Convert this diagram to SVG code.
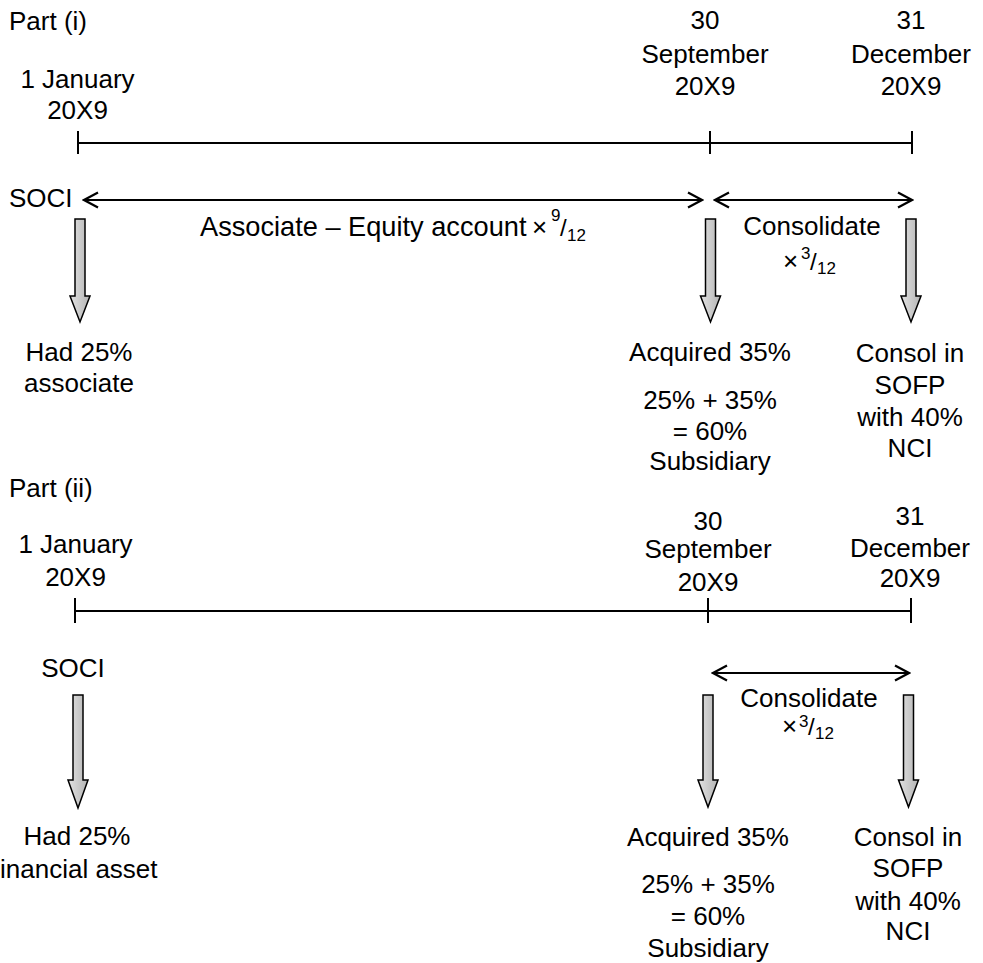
<svg xmlns="http://www.w3.org/2000/svg" width="983" height="963" viewBox="0 0 983 963">
<style>
text{font-family:"Liberation Sans",Arial,sans-serif;font-size:26px;fill:#000}
.m{text-anchor:middle}
.sm{font-size:17px}
.x{font-size:26px}
.sl{font-size:24px}
.big{font-size:27.2px}
.tl{stroke:#000;stroke-width:2;fill:none}
.da{stroke:#000;stroke-width:2;fill:none;marker-start:url(#chev);marker-end:url(#chev)}
.blk{fill:url(#g);stroke:#000;stroke-width:1.5;stroke-linejoin:miter}
</style>
<defs>
<linearGradient id="g" x1="0" y1="0" x2="1" y2="0">
<stop offset="0" stop-color="#e2e2e2"/>
<stop offset="1" stop-color="#b4b4b4"/>
</linearGradient>
<marker id="chev" markerUnits="userSpaceOnUse" markerWidth="18" markerHeight="20" viewBox="-2 -2 18 20" refX="14" refY="7.5" orient="auto-start-reverse">
<path d="M0,0 L14,7.5 L0,15" fill="none" stroke="#000" stroke-width="2.2"/>
</marker>
</defs>

<!-- Part (i) -->
<g id="part1-title"><text x="9" y="30">Part (i)</text></g>
<g id="p1-jan"><text class="m" x="77.5" y="88">1 January</text><text class="m" x="77.5" y="119">20X9</text></g>
<g id="p1-sep"><text class="m" x="705" y="29">30</text><text class="m" x="705" y="63">September</text><text class="m" x="705" y="95">20X9</text></g>
<g id="p1-dec"><text class="m" x="911" y="29">31</text><text class="m" x="911" y="63">December</text><text class="m" x="911" y="95">20X9</text></g>
<g id="p1-soci"><text x="9" y="207">SOCI</text></g>
<g id="p1-assoc-label"><text class="big" x="200" y="236">Associate – Equity account</text><text class="x" x="532" y="236">×</text><text class="sm" x="551" y="221">9</text><text class="sl" x="560" y="236">/</text><text class="sm" x="567" y="241">12</text></g>
<g id="p1-consol-label"><text class="m" x="812" y="235">Consolidate</text><text class="x" x="783" y="270">×</text><text class="sm" x="801" y="259">3</text><text class="sl" x="810" y="270">/</text><text class="sm" x="817" y="274">12</text></g>
<g id="p1-had"><text class="m" x="79" y="361">Had 25%</text><text class="m" x="79" y="392">associate</text></g>
<g id="p1-acq"><text class="m" x="710" y="361">Acquired 35%</text><text class="m" x="710" y="409">25% + 35%</text><text class="m" x="710" y="440">= 60%</text><text class="m" x="710" y="470">Subsidiary</text></g>
<g id="p1-sofp"><text class="m" x="910" y="362">Consol in</text><text class="m" x="910" y="394">SOFP</text><text class="m" x="910" y="426">with 40%</text><text class="m" x="910" y="457">NCI</text></g>

<!-- Part (ii) -->
<g id="part2-title"><text x="9" y="497">Part (ii)</text></g>
<g id="p2-jan"><text class="m" x="75.5" y="553">1 January</text><text class="m" x="75.5" y="586">20X9</text></g>
<g id="p2-sep"><text class="m" x="708" y="530">30</text><text class="m" x="708" y="558">September</text><text class="m" x="708" y="591">20X9</text></g>
<g id="p2-dec"><text class="m" x="910" y="525">31</text><text class="m" x="910" y="557">December</text><text class="m" x="910" y="587">20X9</text></g>
<g id="p2-soci"><text class="m" x="73" y="677">SOCI</text></g>
<g id="p2-consol-label"><text class="m" x="809" y="707">Consolidate</text><text class="x" x="782" y="735">×</text><text class="sm" x="799" y="727">3</text><text class="sl" x="808" y="735">/</text><text class="sm" x="815" y="739">12</text></g>
<g id="p2-had"><text class="m" x="77" y="845">Had 25%</text><text x="0" y="878">inancial asset</text></g>
<g id="p2-acq"><text class="m" x="708" y="846">Acquired 35%</text><text class="m" x="708" y="893">25% + 35%</text><text class="m" x="708" y="925">= 60%</text><text class="m" x="708" y="957">Subsidiary</text></g>
<g id="p2-sofp"><text class="m" x="908" y="846">Consol in</text><text class="m" x="908" y="877">SOFP</text><text class="m" x="908" y="910">with 40%</text><text class="m" x="908" y="940">NCI</text></g>

<!-- block arrows -->
<g id="p1-block-left"><path class="blk" d="M75,219 H85 V296 H90 L80,322 L70,296 H75 Z"/></g>
<g id="p1-block-mid"><path class="blk" d="M705.5,219 H715.5 V296 H720.5 L710.5,322 L700.5,296 H705.5 Z"/></g>
<g id="p1-block-right"><path class="blk" d="M906,219 H916 V296 H921 L911,322 L901,296 H906 Z"/></g>
<g id="p2-block-left"><path class="blk" d="M73,695 H83 V780 H88 L78,808 L68,780 H73 Z"/></g>
<g id="p2-block-mid"><path class="blk" d="M703,695 H713 V780 H718 L708,807 L698,780 H703 Z"/></g>
<g id="p2-block-right"><path class="blk" d="M903.5,695 H913.5 V780 H918.5 L908.5,807 L898.5,780 H903.5 Z"/></g>

<!-- connectors -->
<g id="connectors">
<path class="tl" d="M78,143 H912 M78,131 V154 M710,131 V154 M912,131 V154"/>
<line class="da" x1="84" y1="200" x2="702" y2="200"/>
<line class="da" x1="715" y1="200" x2="912" y2="200"/>
<path class="tl" d="M75,611 H911 M75,598 V623 M708,598 V623 M911,598 V623"/>
<line class="da" x1="713" y1="673" x2="909" y2="673"/>
</g>
</svg>
